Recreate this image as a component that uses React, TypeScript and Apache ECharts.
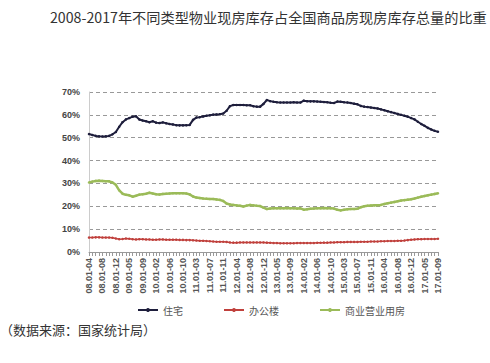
import React, { useEffect, useRef } from "react";
import * as echarts from "echarts";

const years = ["08", "09", "10", "11", "12", "13", "14", "15", "16", "17"];
const monthsFull = ["02", "03", "04", "05", "06", "07", "08", "09", "10", "11", "12"];
const firstMonths2008 = ["04", "05", "06", "07", "08", "09", "10", "11", "12"];
const months2017 = ["02", "03", "04", "05", "06", "07", "08", "09"];

const categories: string[] = [];
years.forEach((y) => {
  const ms = y === "08" ? firstMonths2008 : y === "17" ? months2017 : monthsFull;
  ms.forEach((m) => categories.push(`${y}.01-${m}`));
});

const residential = [
  51.6, 51.2, 50.8, 50.6, 50.5, 50.6, 50.8, 51.5, 52.5, 54.8,
  56.8, 58.0, 58.6, 59.2, 59.4, 58.0, 57.5, 57.2, 56.8, 57.2,
  56.6, 56.4, 56.7, 56.3, 56.0, 55.8, 55.5, 55.4, 55.4, 55.5,
  55.6, 57.8, 58.8, 59.0, 59.3, 59.6, 59.8, 60.1, 60.2, 60.3,
  60.6, 61.8, 63.8, 64.3, 64.3, 64.3, 64.3, 64.2, 64.2, 63.8,
  63.6, 63.6, 64.8, 66.5, 66.0, 65.7, 65.5, 65.4, 65.4, 65.4,
  65.4, 65.5, 65.4, 65.4, 66.2, 66.0, 65.9, 65.9, 65.8, 65.7,
  65.6, 65.5, 65.3, 65.2, 65.8, 65.7, 65.5, 65.4, 65.2, 64.9,
  64.6, 63.9, 63.6, 63.4, 63.2, 63.0, 62.8, 62.4, 62.0, 61.6,
  61.2, 60.8, 60.4, 60.0, 59.6, 59.2, 58.6, 58.0, 57.0, 56.0,
  55.2, 54.3, 53.6, 53.0, 52.6,
];

const office = [
  6.3, 6.3, 6.4, 6.4, 6.3, 6.3, 6.3, 6.2, 5.9, 5.6,
  5.7, 5.9, 5.8, 5.6, 5.5, 5.6, 5.6, 5.5, 5.5, 5.4,
  5.4, 5.5, 5.5, 5.4, 5.4, 5.4, 5.4, 5.3, 5.3, 5.2,
  5.2, 5.1, 5.0, 4.9, 4.9, 4.8, 4.7, 4.6, 4.5, 4.5,
  4.5, 4.4, 4.2, 4.1, 4.1, 4.2, 4.2, 4.2, 4.2, 4.2,
  4.2, 4.2, 4.2, 4.1, 4.0, 3.9, 3.9, 3.8, 3.8, 3.8,
  3.8, 3.8, 3.9, 3.9, 3.9, 3.9, 3.9, 3.9, 4.0, 4.0,
  4.1, 4.1, 4.2, 4.2, 4.3, 4.3, 4.3, 4.4, 4.4, 4.4,
  4.4, 4.5, 4.5, 4.5, 4.6, 4.6, 4.6, 4.7, 4.7, 4.8,
  4.8, 4.8, 4.9, 4.9, 5.0, 5.2, 5.4, 5.5, 5.6, 5.6,
  5.7, 5.7, 5.7, 5.7, 5.8,
];

const commercial = [
  30.4, 30.8, 31.1, 31.2, 31.1, 31.0, 30.9, 30.4, 29.4, 27.0,
  25.5, 25.0, 24.8, 24.2, 24.6, 25.1, 25.3, 25.5, 25.9, 25.6,
  25.3, 25.2, 25.4, 25.5, 25.6, 25.7, 25.7, 25.7, 25.7, 25.6,
  25.2, 24.3, 23.8, 23.6, 23.4, 23.3, 23.2, 23.2, 23.0, 22.8,
  22.3, 21.2, 20.8, 20.6, 20.4, 20.2, 19.9, 20.3, 20.6, 20.4,
  20.2, 20.1, 19.4, 18.8, 19.0, 19.1, 19.1, 19.1, 19.1, 19.2,
  19.1, 19.1, 19.0, 19.1, 18.5, 18.7, 18.9, 19.0, 19.1, 19.1,
  19.2, 19.1, 19.1, 19.0, 18.5, 18.2, 18.5, 18.7, 18.8, 18.8,
  18.9, 19.6, 20.0, 20.2, 20.3, 20.4, 20.5, 20.6, 21.0, 21.3,
  21.6, 21.9, 22.2, 22.5, 22.7, 22.9, 23.1, 23.4, 23.8, 24.2,
  24.5, 24.8, 25.1, 25.4, 25.7,
];

const seriesNames = ["住宅", "办公楼", "商业营业用房"];
const titleText = "2008-2017年不同类型物业现房库存占全国商品房现房库存总量的比重";
const sourceText = "（数据来源：国家统计局）";

export default function App() {
  const ref = useRef<HTMLDivElement>(null);
  useEffect(() => {
    if (!ref.current) return;
    const chart = echarts.init(ref.current, null, { renderer: "svg" });
    const mk = (name: string, data: number[], color: string, width: number) => ({
      name,
      type: "line",
      data,
      symbol: "circle",
      symbolSize: 2.5,
      showAllSymbol: true,
      itemStyle: { color },
      lineStyle: { color, width },
    });
    chart.setOption({
      animation: false,
      backgroundColor: "#ffffff",
      title: {
        text: titleText,
        left: 45,
        top: 5,
        textStyle: {
          fontFamily: "Noto Sans CJK SC",
          fontSize: 14.2,
          fontWeight: "normal",
          color: "#333",
        },
      },
      graphic: [
        {
          type: "text",
          left: 0,
          top: 323,
          style: {
            text: sourceText,
            fontFamily: "Noto Sans CJK SC",
            fontSize: 13,
            fill: "#333",
          },
        },
      ],
      legend: {
        left: 132,
        top: 300,
        itemGap: 40,
        itemWidth: 20,
        itemHeight: 5,
        textStyle: {
          fontFamily: "Noto Sans CJK SC",
          fontSize: 10,
          color: "#555",
        },
        data: seriesNames,
      },
      grid: { left: 89, right: 52, top: 92, bottom: 111 },
      xAxis: {
        type: "category",
        data: categories,
        boundaryGap: false,
        axisLine: { lineStyle: { color: "#999", width: 1 } },
        axisTick: { show: true, interval: 0, length: 4, lineStyle: { color: "#999" } },
        axisLabel: {
          interval: 3,
          rotate: 90,
          fontSize: 9,
          fontWeight: "bold",
          fontFamily: "Liberation Sans Narrow, Liberation Sans",
          color: "#555",
          margin: 6,
        },
      },
      yAxis: {
        type: "value",
        min: 0,
        max: 70,
        interval: 10,
        axisLine: { show: true, lineStyle: { color: "#ccc" } },
        axisTick: { show: false },
        axisLabel: {
          formatter: "{value}%",
          fontSize: 9,
          fontWeight: "bold",
          fontFamily: "Liberation Sans",
          color: "#444",
          margin: 9,
        },
        splitLine: { lineStyle: { color: "#999", type: [4, 3], width: 1 } },
      },
      series: [
        mk(seriesNames[0], residential, "#1e1e3c", 2),
        mk(seriesNames[1], office, "#c0403c", 1.5),
        mk(seriesNames[2], commercial, "#9bbb59", 2.5),
      ],
    });
    return () => chart.dispose();
  }, []);
  return (
    <div
      ref={ref}
      style={{ position: "fixed", left: 0, top: 0, width: 490, height: 363 }}
    />
  );
}
